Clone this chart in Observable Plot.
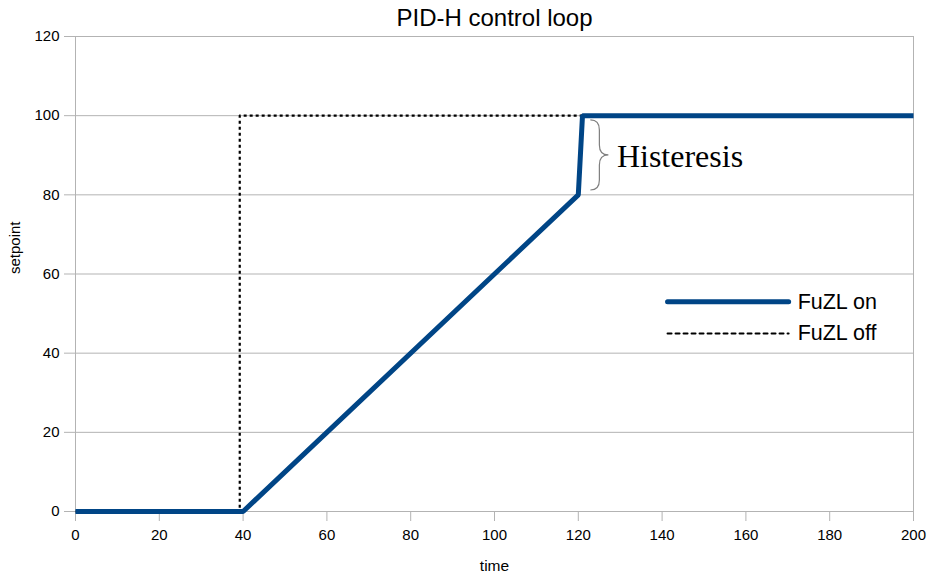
<!DOCTYPE html>
<html>
<head>
<meta charset="utf-8">
<script src="https://cdn.jsdelivr.net/npm/d3@7"></script>
<script src="https://cdn.jsdelivr.net/npm/@observablehq/plot@0.6"></script>
<style>
  html, body { margin: 0; padding: 0; background: #fff; }
  #chart { width: 931px; height: 574px; }
</style>
</head>
<body>
<div id="chart"></div>
<script>
// ---- data ----
const title = "PID-H control loop";
const xLabel = "time";
const yLabel = "setpoint";
const xTicks = [0, 20, 40, 60, 80, 100, 120, 140, 160, 180, 200];
const yTicks = [0, 20, 40, 60, 80, 100, 120];

const onTime = [0, 40, 120, 121, 200];
const onSetpoint = [0, 0, 80, 100, 100];

const offTime = [0, 39.2, 39.2, 200];
const offSetpoint = [0, 0, 100, 100];

const seriesNames = ["FuZL on", "FuZL off"];
const annotationText = "Histeresis";
// brace annotation extents (data units)
const braceX = [123, 127.3];      // left end, tip
const braceY = [98.8, 81.1];      // top, bottom
// legend placement (data units)
const legendX = [141.3, 170.2];
const legendY = [53, 45];

const blue = "#004586";
const gridColor = "#b3b3b3";
const font = "Liberation Sans, Arial, sans-serif";

const onData = onTime.map((t, i) => ({t, v: onSetpoint[i]}));
const offData = offTime.map((t, i) => ({t, v: offSetpoint[i]}));

function braceMark(index, scales, values, dimensions, context) {
  const x0 = scales.x(braceX[0]), x2 = scales.x(braceX[1]);
  const yT = scales.y(braceY[0]), yB = scales.y(braceY[1]);
  const yM = (yT + yB) / 2;
  const xm = (x0 + x2) / 2;
  const r = 5;
  const d = `M${x0},${yT} Q${xm},${yT} ${xm},${yT + r * 2}` +
            ` L${xm},${yM - r * 2} Q${xm},${yM} ${x2},${yM}` +
            ` Q${xm},${yM} ${xm},${yM + r * 2}` +
            ` L${xm},${yB - r * 2} Q${xm},${yB} ${x0},${yB}`;
  const p = d3.create("svg:path")
    .attr("d", d)
    .attr("fill", "none")
    .attr("stroke", "#7f7f7f")
    .attr("stroke-width", 1.2);
  return p.node();
}

const chart = Plot.plot({
  width: 931,
  height: 574,
  marginLeft: 75,
  marginRight: 18,
  marginTop: 36,
  marginBottom: 63,
  style: {fontFamily: font, background: "#fff"},
  x: {type: "linear", domain: [0, 200]},
  y: {type: "linear", domain: [0, 120]},
  marks: [
    Plot.ruleY(yTicks, {stroke: gridColor, strokeWidth: 1}),
    Plot.ruleX([0, 200], {stroke: gridColor, strokeWidth: 1}),
    Plot.axisX({ticks: xTicks, tickSize: 10, tickPadding: 8, fontSize: 15, stroke: gridColor, fill: "#000", label: null, tickFormat: d => String(d)}),
    Plot.axisY({ticks: yTicks, tickSize: 11, tickPadding: 5, fontSize: 15, stroke: gridColor, fill: "#000", label: null, tickFormat: d => String(d)}),
    Plot.line(offData, {x: "t", y: "v", stroke: "#000", strokeWidth: 2.2, strokeDasharray: "3,3", strokeLinecap: "butt"}),
    Plot.line(onData, {x: "t", y: "v", stroke: blue, strokeWidth: 5, strokeLinejoin: "miter", strokeLinecap: "butt"}),
    braceMark,
    Plot.text([annotationText], {x: () => braceX[1], y: () => (braceY[0] + braceY[1]) / 2, text: d => d, textAnchor: "start", dx: 8, dy: 1, fontSize: 32, fontFamily: "Liberation Serif, Times New Roman, serif", fill: "#000"}),
    // legend
    Plot.line([{x: legendX[0], y: legendY[0]}, {x: legendX[1], y: legendY[0]}], {x: "x", y: "y", stroke: blue, strokeWidth: 5}),
    Plot.line([{x: legendX[0], y: legendY[1]}, {x: legendX[1], y: legendY[1]}], {x: "x", y: "y", stroke: "#000", strokeWidth: 2, strokeDasharray: "4,4"}),
    Plot.text(seriesNames, {x: () => legendX[1], y: (d, i) => legendY[i], text: d => d, textAnchor: "start", dx: 9, fontSize: 21.5, fill: "#000"}),
    // title and axis labels
    Plot.text([title], {frameAnchor: "top", lineAnchor: "middle", dy: -18, text: d => d, fontSize: 24, fill: "#000"}),
    Plot.text([xLabel], {frameAnchor: "bottom", lineAnchor: "middle", dy: 55, text: d => d, fontSize: 15.5, fill: "#000"}),
    Plot.text([yLabel], {frameAnchor: "left", dx: -60, rotate: -90, text: d => d, fontSize: 15, fill: "#000"})
  ]
});
document.getElementById("chart").append(chart);
</script>
</body>
</html>
